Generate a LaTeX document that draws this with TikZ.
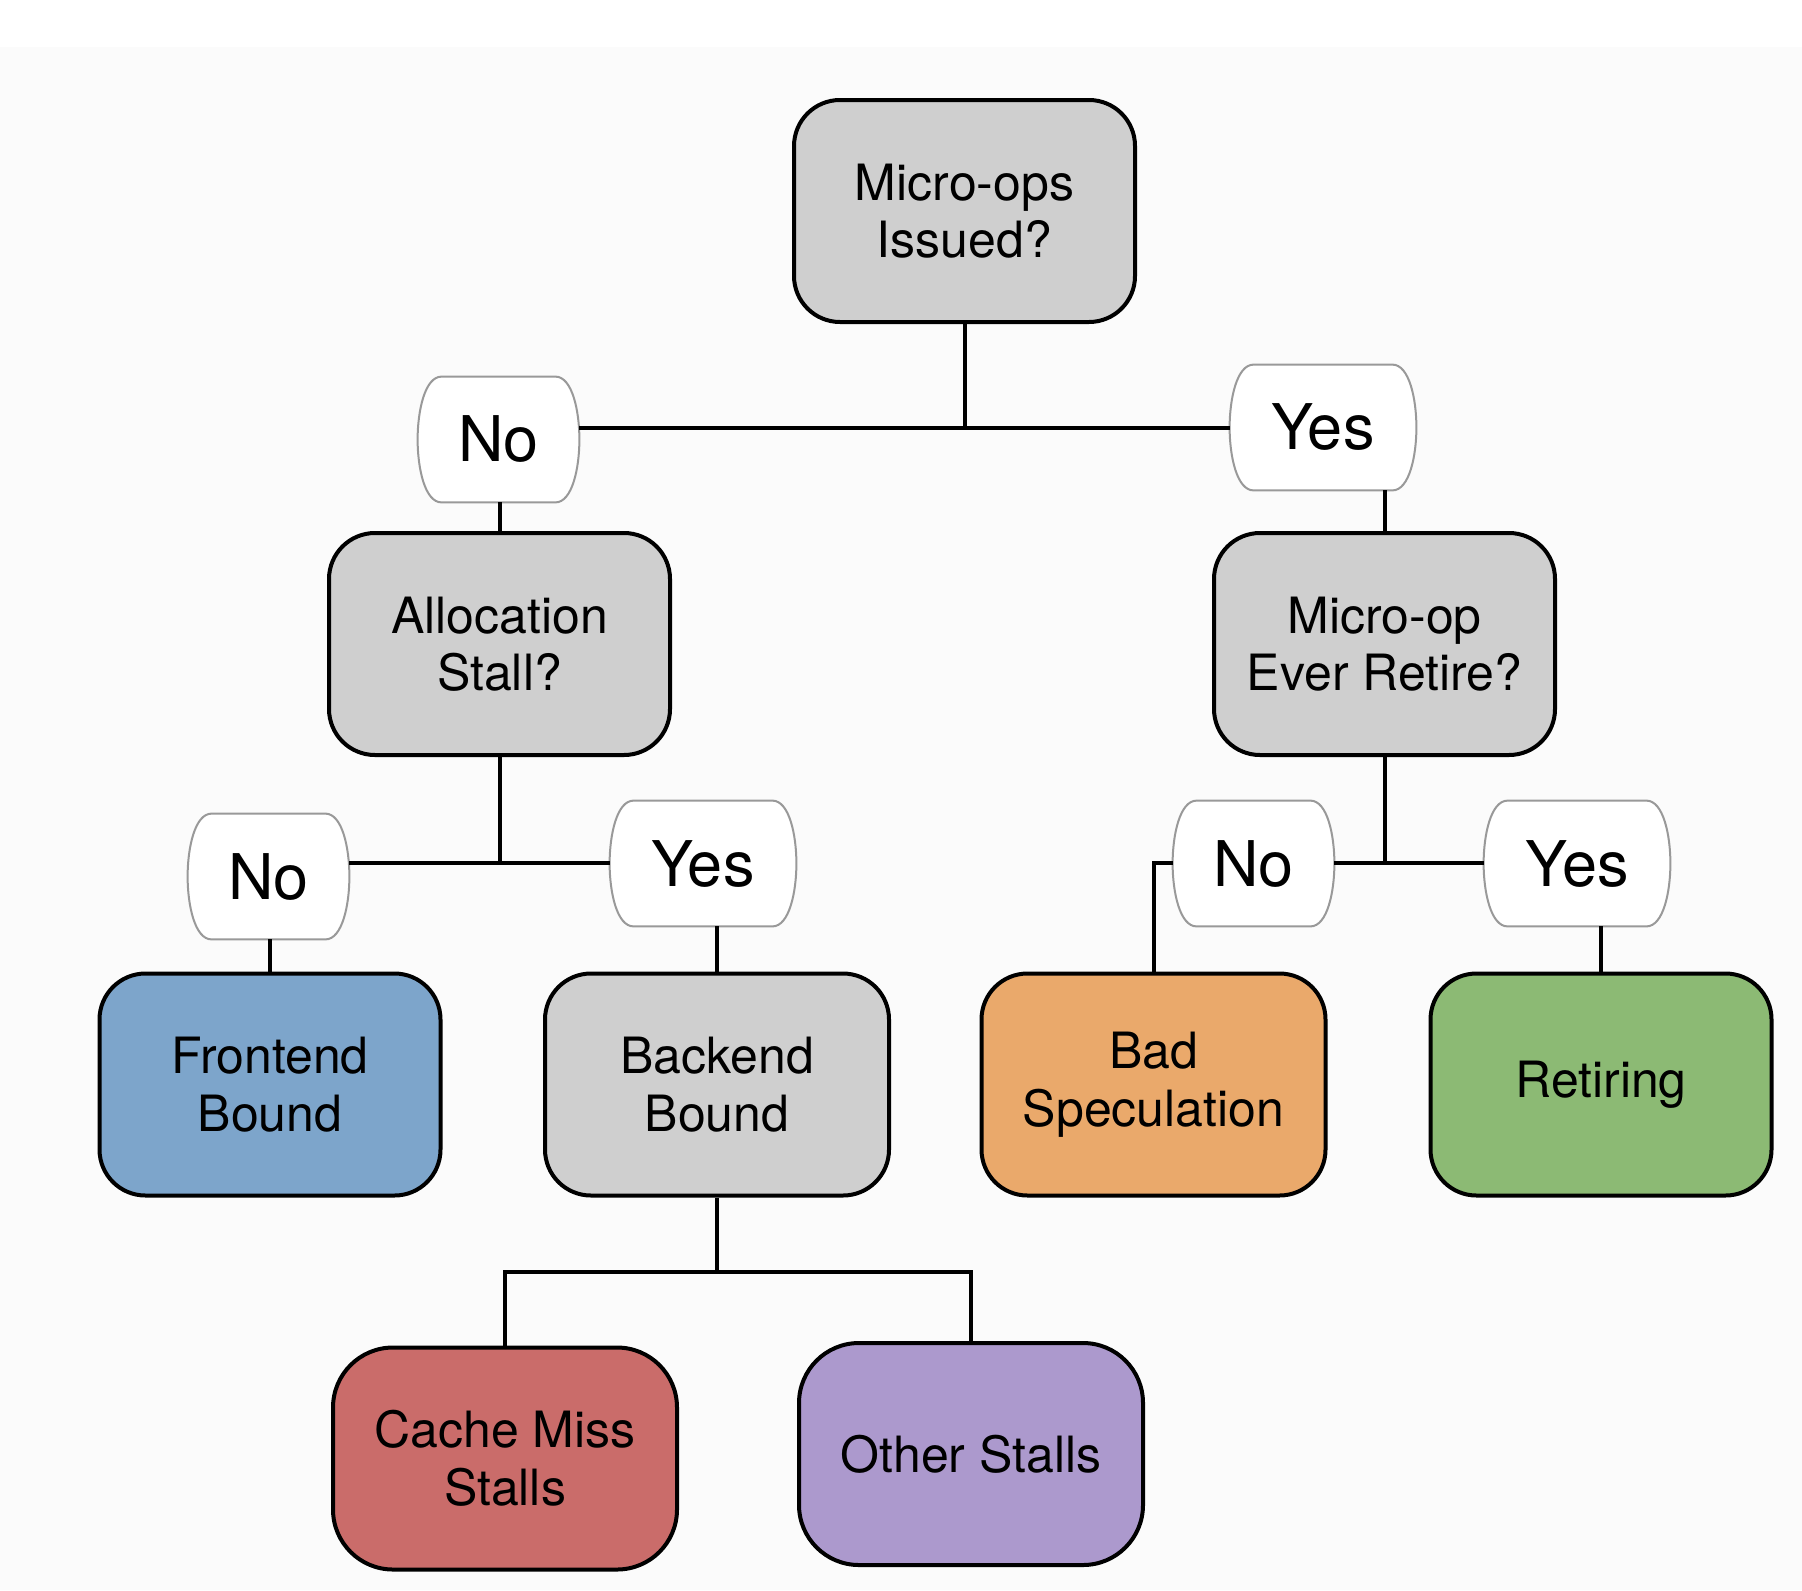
\documentclass[tikz,border=0pt]{standalone}
\usepackage{fontspec}
\setmainfont{TeX Gyre Heros}
\usetikzlibrary{calc}
\definecolor{boxgray}{HTML}{CFCFCF}
\definecolor{boxblue}{HTML}{7DA5CB}
\definecolor{boxorange}{HTML}{EAA96B}
\definecolor{boxgreen}{HTML}{8CBA74}
\definecolor{boxred}{HTML}{CA6C6A}
\definecolor{boxpurple}{HTML}{AC99CD}
\definecolor{bgcol}{HTML}{FBFBFB}
\definecolor{tagedge}{HTML}{999999}
\pgfdeclarelayer{bglayer}
\pgfdeclarelayer{taglayer}
\pgfsetlayers{bglayer,taglayer,main}
\begin{document}
\begin{tikzpicture}[x=0.5pt,y=-0.5pt,
  box/.style={draw=black, line width=2pt, rounded corners=23pt,
    minimum width=170.5pt, minimum height=111pt, align=center,
    font=\fontsize{25}{28.75}\selectfont, inner sep=0pt},
  wbox/.style={box, minimum width=172pt},
  bigbox/.style={box, minimum width=172pt, rounded corners=30pt},
  notag/.style={minimum width=80.5pt, minimum height=62.5pt, inner sep=0pt,
    font=\fontsize{31.5}{36}\selectfont},
  yestag/.style={notag, minimum width=93pt},
  link/.style={line width=2pt},
  tagline/.style={draw=tagedge, line width=1pt, fill=white}
]
\useasboundingbox (0,0) rectangle (1802,1590);
\begin{pgfonlayer}{bglayer}
  \fill[white] (0,0) rectangle (1802,47);
  \fill[bgcol] (0,47) rectangle (1802,1590);
\end{pgfonlayer}

% decision and result boxes
\node[box, fill=boxgray] (top) at (964.5,211) {Micro-ops\\Issued?};
\node[box, fill=boxgray] (alloc) at (499.5,644) {Allocation\\Stall?};
\node[box, fill=boxgray] (retire) at (1384.5,644) {Micro-op\\Ever Retire?};
\node[box, fill=boxblue] (front) at (270,1084.5) {Frontend\\Bound};
\node[wbox, fill=boxgray] (back) at (717,1084.5) {Backend\\Bound};
\node[wbox, fill=boxorange] (bad) at (1153.5,1084.5) {Bad\\Speculation};
\node[box, fill=boxgreen] (retiring) at (1601,1084.5) {Retiring};
\node[bigbox, fill=boxred] (cache) at (505,1458.5) {Cache Miss\\Stalls};
\node[bigbox, fill=boxpurple] (other) at (971,1454) {Other Stalls};

% yes / no tags
\node[notag] (n1) at (498.5,439.5) {No};
\node[yestag] (y1) at (1323,427.5) {Yes};
\node[notag] (n2) at (268.5,876.5) {No};
\node[yestag] (y2) at (703,863.5) {Yes};
\node[notag] (n3) at (1253.5,863.5) {No};
\node[yestag] (y3) at (1577,863.5) {Yes};

\begin{pgfonlayer}{taglayer}
\foreach \t in {n1,y1,n2,y2,n3,y3}{
  \draw[tagline]
    ($(\t.north west)+(24,0)$) -- ($(\t.north east)+(-24,0)$)
    .. controls ($(\t.north east)+(-7,0)$) and ($(\t.east)+(0,-28)$) .. (\t.east)
    .. controls ($(\t.east)+(0,28)$) and ($(\t.south east)+(-7,0)$) .. ($(\t.south east)+(-24,0)$)
    -- ($(\t.south west)+(24,0)$)
    .. controls ($(\t.south west)+(7,0)$) and ($(\t.west)+(0,28)$) .. (\t.west)
    .. controls ($(\t.west)+(0,-28)$) and ($(\t.north west)+(7,0)$) .. cycle;
}
\end{pgfonlayer}

% connectors
\coordinate (h1) at (964.5,427.5);
\coordinate (h2) at (499.5,863);
\coordinate (h3) at (1384.5,863);
\coordinate (h4) at (717,1272);

\draw[link] (top.south) -- (h1);
\draw[link] (n1.east |- h1) -- (y1.west |- h1);
\draw[link] (alloc.north) -- (alloc.north |- n1.south);
\draw[link] (retire.north) -- (retire.north |- y1.south);

\draw[link] (alloc.south) -- (h2);
\draw[link] (n2.east |- h2) -- (y2.west |- h2);
\draw[link] (front.north) -- (front.north |- n2.south);
\draw[link] (back.north) -- (back.north |- y2.south);

\draw[link] (retire.south) -- (h3);
\draw[link] (n3.east |- h3) -- (y3.west |- h3);
\draw[link] (n3.west |- h3) -| (bad.north);
\draw[link] (retiring.north) -- (retiring.north |- y3.south);

\draw[link] (back.south) -- (h4);
\draw[link] (cache.north) |- (h4) -| (other.north);
\end{tikzpicture}
\end{document}
